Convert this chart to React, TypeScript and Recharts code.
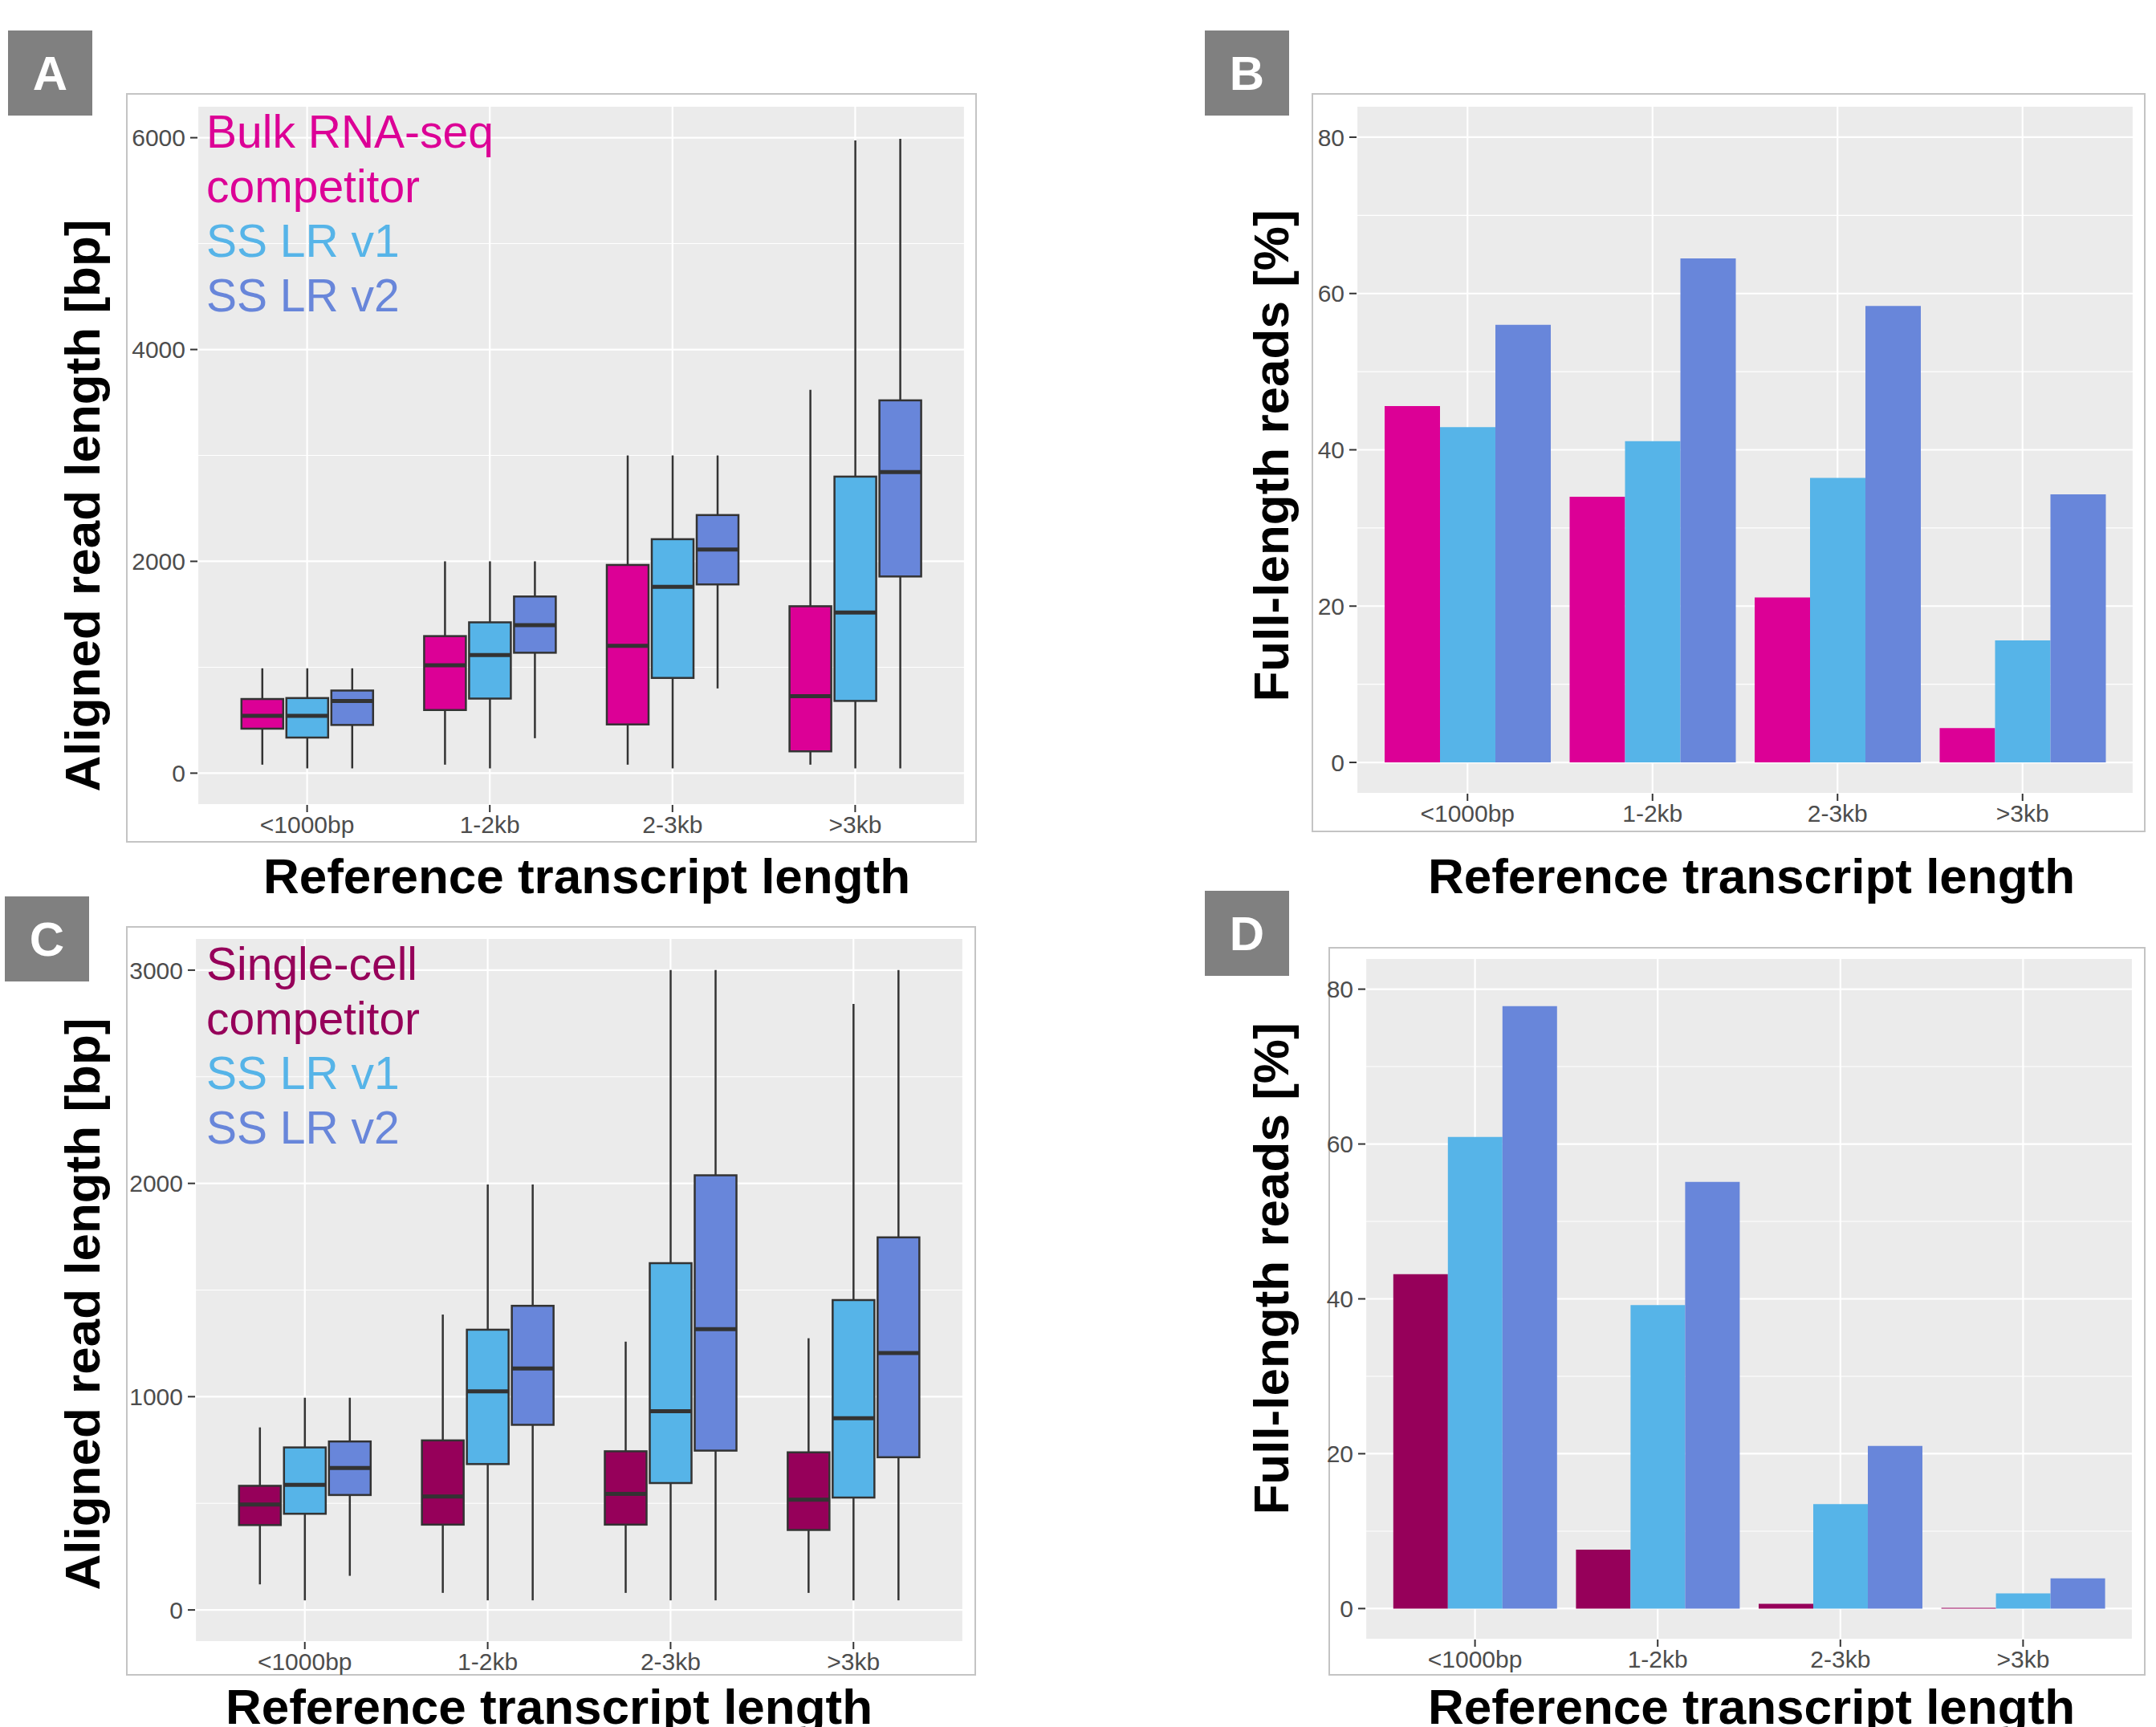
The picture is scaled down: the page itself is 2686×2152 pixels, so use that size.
import React from 'react'
import { BarChart, Bar, XAxis, YAxis, CartesianGrid, Legend } from 'recharts'

const FONT = '"Liberation Sans", Arial, Helvetica, sans-serif'

const CATEGORIES = ['<1000bp', '1-2kb', '2-3kb', '>3kb']

const MAGENTA = '#DC0096'
const DARK_MAGENTA = '#96005A'
const CYAN = '#56B4E8'
const BLUE = '#6886DA'

// boxplot stats per category: [lower whisker, Q1, median, Q3, upper whisker]
const bulkCompetitorA = [
  [80, 420, 541, 700, 990],
  [80, 596, 1018, 1294, 2000],
  [80, 460, 1202, 1966, 3000],
  [80, 206, 726, 1576, 3620],
]
const ssLrV1A = [
  [45, 336, 541, 709, 990],
  [45, 704, 1115, 1424, 2000],
  [45, 899, 1760, 2209, 3000],
  [45, 682, 1516, 2800, 5975],
]
const ssLrV2A = [
  [45, 455, 682, 780, 990],
  [330, 1137, 1397, 1668, 2000],
  [800, 1782, 2112, 2437, 3000],
  [45, 1857, 2843, 3520, 5990],
]

const scCompetitorC = [
  [120, 398, 494, 582, 856],
  [80, 400, 532, 795, 1385],
  [80, 400, 544, 744, 1258],
  [80, 375, 517, 739, 1274],
]
const ssLrV1C = [
  [45, 451, 587, 762, 995],
  [45, 684, 1025, 1314, 1995],
  [45, 595, 932, 1626, 3000],
  [45, 527, 899, 1453, 2841],
]
const ssLrV2C = [
  [160, 539, 666, 790, 995],
  [45, 868, 1132, 1426, 1995],
  [45, 747, 1317, 2038, 3000],
  [45, 716, 1205, 1747, 3000],
]

// full-length reads [%]
const bulkCompetitorB = [45.6, 34.0, 21.1, 4.4]
const ssLrV1B = [42.9, 41.1, 36.4, 15.6]
const ssLrV2B = [56.0, 64.5, 58.4, 34.3]

const scCompetitorD = [43.2, 7.6, 0.6, 0.1]
const ssLrV1D = [60.9, 39.2, 13.5, 1.95]
const ssLrV2D = [77.8, 55.1, 21.0, 3.9]

const SERIES_ORDER = ['comp', 'v1', 'v2']

const boxRows = (comp: number[][], v1: number[][], v2: number[][]) =>
  CATEGORIES.map((cat, i) => ({
    cat,
    comp: [comp[i][1], comp[i][3]],
    v1: [v1[i][1], v1[i][3]],
    v2: [v2[i][1], v2[i][3]],
    compStats: comp[i],
    v1Stats: v1[i],
    v2Stats: v2[i],
  }))

const barRows = (comp: number[], v1: number[], v2: number[]) =>
  CATEGORIES.map((cat, i) => ({ cat, comp: comp[i], v1: v1[i], v2: v2[i] }))

// draws the box (Q1..Q3) plus whiskers and median, scaled off the bar's own pixels
function makeBoxShape(key: string) {
  return (props: any) => {
    const { x, y, width, height, payload, fill } = props
    const s = payload[key + 'Stats']
    const top = Math.min(y, y + height)
    const bottom = Math.max(y, y + height)
    const k = (bottom - top) / (s[3] - s[1])
    const py = (v: number) => bottom - (v - s[1]) * k
    const cx = x + width / 2
    return (
      <g>
        <line x1={cx} x2={cx} y1={py(s[4])} y2={top} stroke="#333" strokeWidth={2.5} />
        <line x1={cx} x2={cx} y1={bottom} y2={py(s[0])} stroke="#333" strokeWidth={2.5} />
        <rect x={x} y={top} width={width} height={bottom - top} fill={fill} stroke="#333" strokeWidth={2.5} />
        <line x1={x} x2={x + width} y1={py(s[2])} y2={py(s[2])} stroke="#333" strokeWidth={5} />
      </g>
    )
  }
}

const LegendText = ({ payload }: any) => {
  const items = [...(payload || [])].sort(
    (a: any, b: any) => SERIES_ORDER.indexOf(a.dataKey) - SERIES_ORDER.indexOf(b.dataKey)
  )
  return (
    <div style={{ width: 400, fontFamily: FONT, fontSize: 57, lineHeight: '68px', textAlign: 'left' }}>
      {items.map((p: any) => (
        <div key={p.value} style={{ color: p.color }}>{p.value}</div>
      ))}
    </div>
  )
}

const tickStyle = { fill: '#4d4d4d', fontSize: 30, fontFamily: FONT }

interface Geo {
  left: number
  top: number
  width: number
  height: number
  margin: { top: number; right: number; bottom: number; left: number }
  yWidth: number
  xHeight: number
  pad: number
}

function BoxPanel({ geo, data, names, colors, domain, ticks, minor }: any) {
  const g: Geo = geo
  return (
    <div style={{ position: 'absolute', left: g.left, top: g.top }}>
      <BarChart width={g.width} height={g.height} data={data} margin={g.margin} barGap={4}>
        <CartesianGrid fill="#ebebeb" stroke="#ffffff" strokeWidth={2.2} />
        <CartesianGrid yAxisId="minor" vertical={false} stroke="#ffffff" strokeWidth={1.1} />
        <XAxis
          dataKey="cat"
          interval={0}
          padding={{ left: g.pad, right: g.pad }}
          height={g.xHeight}
          axisLine={false}
          tickSize={9}
          tickMargin={5}
          tickLine={{ stroke: '#333', strokeWidth: 2 }}
          tick={tickStyle}
        />
        <YAxis
          type="number"
          domain={domain}
          ticks={ticks}
          interval={0}
          allowDataOverflow
          width={g.yWidth}
          axisLine={false}
          tickSize={9}
          tickMargin={6}
          tickLine={{ stroke: '#333', strokeWidth: 2 }}
          tick={tickStyle}
        />
        <YAxis yAxisId="minor" type="number" domain={domain} ticks={minor} allowDataOverflow hide />
        <Legend
          layout="vertical"
          align="center"
          verticalAlign="middle"
          content={<LegendText />}
          wrapperStyle={{ left: 107, top: g.margin.top - 2, width: 420 }}
        />
        <Bar dataKey="comp" name={names[0]} fill={colors[0]} barSize={52} isAnimationActive={false} shape={makeBoxShape('comp')} />
        <Bar dataKey="v1" name={names[1]} fill={colors[1]} barSize={52} isAnimationActive={false} shape={makeBoxShape('v1')} />
        <Bar dataKey="v2" name={names[2]} fill={colors[2]} barSize={52} isAnimationActive={false} shape={makeBoxShape('v2')} />
      </BarChart>
    </div>
  )
}

function PercentPanel({ geo, data, colors, barSize }: any) {
  const g: Geo = geo
  return (
    <div style={{ position: 'absolute', left: g.left, top: g.top }}>
      <BarChart width={g.width} height={g.height} data={data} margin={g.margin} barGap={0}>
        <CartesianGrid fill="#ebebeb" stroke="#ffffff" strokeWidth={2.2} />
        <CartesianGrid yAxisId="minor" vertical={false} stroke="#ffffff" strokeWidth={1.1} />
        <XAxis
          dataKey="cat"
          interval={0}
          padding={{ left: g.pad, right: g.pad }}
          height={g.xHeight}
          axisLine={false}
          tickSize={9}
          tickMargin={5}
          tickLine={{ stroke: '#333', strokeWidth: 2 }}
          tick={tickStyle}
        />
        <YAxis
          type="number"
          domain={[-4, 84]}
          ticks={[0, 20, 40, 60, 80]}
          interval={0}
          allowDataOverflow
          width={g.yWidth}
          axisLine={false}
          tickSize={9}
          tickMargin={6}
          tickLine={{ stroke: '#333', strokeWidth: 2 }}
          tick={tickStyle}
        />
        <YAxis yAxisId="minor" type="number" domain={[-4, 84]} ticks={[10, 30, 50, 70]} allowDataOverflow hide />
        <Bar dataKey="comp" fill={colors[0]} barSize={barSize} isAnimationActive={false} />
        <Bar dataKey="v1" fill={colors[1]} barSize={barSize} isAnimationActive={false} />
        <Bar dataKey="v2" fill={colors[2]} barSize={barSize} isAnimationActive={false} />
      </BarChart>
    </div>
  )
}

const Letter = ({ ch, x, y }: { ch: string; x: number; y: number }) => (
  <div
    style={{
      position: 'absolute', left: x, top: y, width: 105, height: 106, background: '#808080',
      color: '#fff', fontFamily: FONT, fontWeight: 'bold', fontSize: 60,
      display: 'flex', alignItems: 'center', justifyContent: 'center',
    }}
  >
    {ch}
  </div>
)

const Frame = ({ x1, y1, x2, y2 }: { x1: number; y1: number; x2: number; y2: number }) => (
  <div style={{ position: 'absolute', left: x1, top: y1, width: x2 - x1, height: y2 - y1, border: '2px solid #c4c4c4', boxSizing: 'border-box' }} />
)

const Title = ({ text, x, y, vertical }: { text: string; x: number; y: number; vertical?: boolean }) => (
  <div
    style={{
      position: 'absolute', left: x, top: y, whiteSpace: 'nowrap', fontFamily: FONT,
      fontWeight: 'bold', fontSize: 62, lineHeight: 1, color: '#000',
      transform: `translate(-50%, -50%)${vertical ? ' rotate(-90deg)' : ''}`,
    }}
  >
    {text}
  </div>
)

const geoA: Geo = { left: 150, top: 110, width: 1070, height: 960, margin: { top: 22, right: 18, bottom: 17, left: 6 }, yWidth: 90, xHeight: 50, pad: 22.8 }
const geoC: Geo = { left: 150, top: 1150, width: 1070, height: 940, margin: { top: 19, right: 20, bottom: 4, left: 6 }, yWidth: 87, xHeight: 40, pad: 22.8 }
const geoB: Geo = { left: 1620, top: 110, width: 1060, height: 960, margin: { top: 22, right: 22, bottom: 31, left: 6 }, yWidth: 64, xHeight: 50, pad: 23 }
const geoD: Geo = { left: 1630, top: 1170, width: 1050, height: 920, margin: { top: 24, right: 23, bottom: 3, left: 6 }, yWidth: 65, xHeight: 44, pad: 22.8 }

export default function App() {
  return (
    <div style={{ position: 'absolute', left: 0, top: 0, width: 2686, height: 2152, background: '#fff', overflow: 'hidden' }}>
      <Frame x1={157} y1={116} x2={1217} y2={1050} />
      <Frame x1={1634} y1={116} x2={2673} y2={1037} />
      <Frame x1={157} y1={1154} x2={1216} y2={2088} />
      <Frame x1={1655} y1={1180} x2={2673} y2={2088} />

      <BoxPanel
        geo={geoA}
        data={boxRows(bulkCompetitorA, ssLrV1A, ssLrV2A)}
        names={['Bulk RNA-seq competitor', 'SS LR v1', 'SS LR v2']}
        colors={[MAGENTA, CYAN, BLUE]}
        domain={[-300, 6300]}
        ticks={[0, 2000, 4000, 6000]}
        minor={[1000, 3000, 5000]}
      />
      <BoxPanel
        geo={geoC}
        data={boxRows(scCompetitorC, ssLrV1C, ssLrV2C)}
        names={['Single-cell competitor', 'SS LR v1', 'SS LR v2']}
        colors={[DARK_MAGENTA, CYAN, BLUE]}
        domain={[-150, 3150]}
        ticks={[0, 1000, 2000, 3000]}
        minor={[500, 1500, 2500]}
      />
      <PercentPanel geo={geoB} data={barRows(bulkCompetitorB, ssLrV1B, ssLrV2B)} colors={[MAGENTA, CYAN, BLUE]} barSize={69} />
      <PercentPanel geo={geoD} data={barRows(scCompetitorD, ssLrV1D, ssLrV2D)} colors={[DARK_MAGENTA, CYAN, BLUE]} barSize={68} />

      <Letter ch="A" x={10} y={38} />
      <Letter ch="B" x={1501} y={38} />
      <Letter ch="C" x={6} y={1117} />
      <Letter ch="D" x={1501} y={1110} />

      <Title text="Reference transcript length" x={731} y={1092} />
      <Title text="Aligned read length [bp]" x={103} y={630} vertical />
      <Title text="Reference transcript length" x={2182} y={1092} />
      <Title text="Full-length reads [%]" x={1584} y={568} vertical />
      <Title text="Reference transcript length" x={684} y={2127} />
      <Title text="Aligned read length [bp]" x={103} y={1625} vertical />
      <Title text="Reference transcript length" x={2182} y={2127} />
      <Title text="Full-length reads [%]" x={1584} y={1581} vertical />
    </div>
  )
}
